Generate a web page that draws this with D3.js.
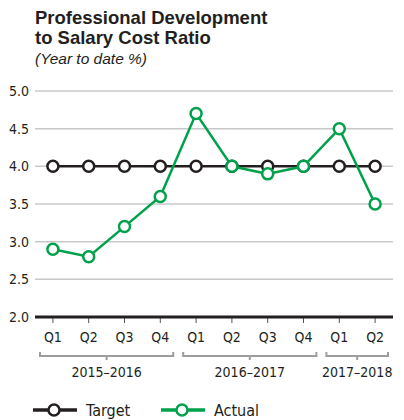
<!DOCTYPE html>
<html>
<head>
<meta charset="utf-8">
<script src="https://cdn.jsdelivr.net/npm/d3@7"></script>
<style>
  body { margin: 0; background: #fff; }
  text { font-family: "Liberation Sans Narrow", "DejaVu Sans Condensed", "Liberation Sans", sans-serif; fill: #231f20; }
  .title { font-family: "Liberation Sans", Arial, sans-serif; font-weight: bold; font-size: 18.5px; }
  .sub { font-family: "Liberation Sans", Arial, sans-serif; font-style: italic; font-size: 15.5px; }
</style>
</head>
<body>
<div id="chart"></div>
<script>
// Data
const quarters = ["Q1", "Q2", "Q3", "Q4", "Q1", "Q2", "Q3", "Q4", "Q1", "Q2"];
const target = [4.0, 4.0, 4.0, 4.0, 4.0, 4.0, 4.0, 4.0, 4.0, 4.0];
const actual = [2.9, 2.8, 3.2, 3.6, 4.7, 4.0, 3.9, 4.0, 4.5, 3.5];
const years = ["2015–2016", "2016–2017", "2017–2018"];
const yearSpans = [[0, 3], [4, 7], [8, 9]];
const yTicks = [2.0, 2.5, 3.0, 3.5, 4.0, 4.5, 5.0];

const black = "#231f20";
const green = "#00a14b";

const svg = d3.select("#chart")
    .append("svg")
    .attr("width", 404)
    .attr("height", 420);

// Scales
const x = d3.scalePoint()
    .domain(d3.range(quarters.length))
    .range([35, 393])
    .padding(0.5);

const y = d3.scaleLinear()
    .domain([2, 5])
    .range([317, 91]);

// Titles
svg.append("text").attr("class", "title").attr("x", 35).attr("y", 24).text("Professional Development");
svg.append("text").attr("class", "title").attr("x", 35).attr("y", 44).text("to Salary Cost Ratio");
svg.append("text").attr("class", "sub").attr("x", 35).attr("y", 64).text("(Year to date %)");

// Gridlines + y labels
yTicks.forEach(t => {
    if (t > 2) {
        svg.append("line")
            .attr("x1", 35).attr("x2", 393)
            .attr("y1", y(t)).attr("y2", y(t))
            .attr("stroke", "#c8c8c8")
            .attr("stroke-width", 1.5);
    }
    svg.append("text")
        .attr("x", 29)
        .attr("y", y(t))
        .attr("dy", "0.35em")
        .attr("text-anchor", "end")
        .attr("font-size", 14)
        .text(d3.format(".1f")(t));
});

// x ticks and labels
quarters.forEach((q, i) => {
    svg.append("line")
        .attr("x1", x(i)).attr("x2", x(i))
        .attr("y1", 317).attr("y2", 323)
        .attr("stroke", "#555")
        .attr("stroke-width", 1);
    svg.append("text")
        .attr("x", x(i))
        .attr("y", 342)
        .attr("text-anchor", "middle")
        .attr("font-size", 14)
        .text(q);
});

// Baseline
svg.append("line")
    .attr("x1", 35).attr("x2", 393)
    .attr("y1", 317).attr("y2", 317)
    .attr("stroke", black)
    .attr("stroke-width", 3);

// Year brackets
const half = x.step() / 2;
yearSpans.forEach((s, k) => {
    const x1 = x(s[0]) - half + 5;
    const x2 = x(s[1]) + half - 5;
    const mid = (x1 + x2) / 2;
    svg.append("path")
        .attr("d", `M${x1},352 V356 H${x2} V352 M${mid},356 V360`)
        .attr("fill", "none")
        .attr("stroke", "#9d9d9d")
        .attr("stroke-width", 2);
    svg.append("text")
        .attr("x", mid)
        .attr("y", 377)
        .attr("text-anchor", "middle")
        .attr("font-size", 14)
        .text(years[k]);
});

// Lines
const line = d3.line()
    .x((d, i) => x(i))
    .y(d => y(d));

function drawSeries(data, color) {
    svg.append("path")
        .datum(data)
        .attr("d", line)
        .attr("fill", "none")
        .attr("stroke", color)
        .attr("stroke-width", 2.5);
    svg.selectAll(null)
        .data(data)
        .enter()
        .append("circle")
        .attr("cx", (d, i) => x(i))
        .attr("cy", d => y(d))
        .attr("r", 5.5)
        .attr("fill", "#fff")
        .attr("stroke", color)
        .attr("stroke-width", 2.5);
}

drawSeries(target, black);
drawSeries(actual, green);

// Legend
function legendItem(x0, color, label) {
    svg.append("line")
        .attr("x1", x0).attr("x2", x0 + 44)
        .attr("y1", 410).attr("y2", 410)
        .attr("stroke", color)
        .attr("stroke-width", 3.5);
    svg.append("circle")
        .attr("cx", x0 + 21).attr("cy", 410)
        .attr("r", 5.5)
        .attr("fill", "#fff")
        .attr("stroke", color)
        .attr("stroke-width", 2.5);
    svg.append("text")
        .attr("x", x0 + 53)
        .attr("y", 410)
        .attr("dy", "0.35em")
        .attr("font-size", 16)
        .text(label);
}
legendItem(33, black, "Target");
legendItem(161, green, "Actual");
</script>
</body>
</html>
